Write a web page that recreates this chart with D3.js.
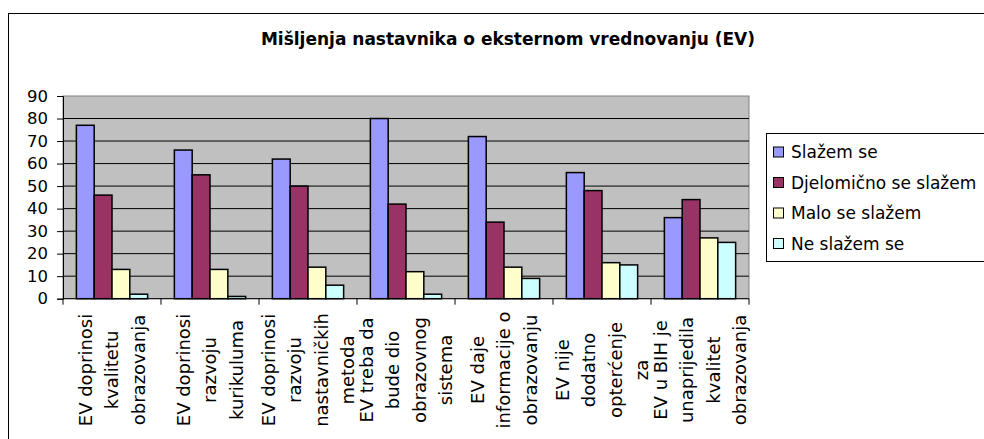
<!DOCTYPE html>
<html>
<head>
<meta charset="utf-8">
<script src="https://cdn.jsdelivr.net/npm/d3@7"></script>
<style>
  html, body { margin: 0; padding: 0; background: #fff; }
  svg { display: block; font-family: "DejaVu Sans", sans-serif; }
</style>
</head>
<body>
<div id="chart"></div>
<script>
// category labels, one array entry per wrapped line
const categories = [
  ['EV doprinosi', 'kvalitetu', 'obrazovanja'],
  ['EV doprinosi', 'razvoju', 'kurikuluma'],
  ['EV doprinosi', 'razvoju', 'nastavničkih', 'metoda'],
  ['EV treba da', 'bude dio', 'obrazovnog', 'sistema'],
  ['EV daje', 'informacije o', 'obrazovanju'],
  ['EV nije', 'dodatno', 'opterćenje', 'za'],
  ['EV u BIH je', 'unaprijedila', 'kvalitet', 'obrazovanja']
];

const seriesNames = ['Slažem se', 'Djelomično se slažem', 'Malo se slažem', 'Ne slažem se'];
const seriesColors = ['#9999FF', '#993366', '#FFFFCC', '#CCFFFF'];

const slazemSe = [77, 66, 62, 80, 72, 56, 36];
const djelomicno = [46, 55, 50, 42, 34, 48, 44];
const maloSe = [13, 13, 14, 12, 14, 16, 27];
const neSlazem = [2, 1, 6, 2, 9, 15, 25];

const yTicks = [0, 10, 20, 30, 40, 50, 60, 70, 80, 90];
const title = 'Mišljenja nastavnika o eksternom vrednovanju (EV)';

const width = 984, height = 439;
const plot = { left: 63, right: 749, top: 96, bottom: 298.7 };
const series = [slazemSe, djelomicno, maloSe, neSlazem];

const svg = d3.select('#chart').append('svg')
  .attr('width', width)
  .attr('height', height);

// outer chart border (runs past the window on the right and bottom)
svg.append('rect')
  .attr('x', 8.5).attr('y', 13.5)
  .attr('width', 1010).attr('height', 440)
  .attr('fill', '#fff')
  .attr('stroke', '#000');

svg.append('text')
  .attr('x', 508).attr('y', 45)
  .attr('text-anchor', 'middle')
  .attr('font-size', '17px')
  .attr('font-weight', 'bold')
  .text(title);

const catIdx = d3.range(categories.length);
const x0 = d3.scaleBand()
  .domain(catIdx)
  .range([plot.left, plot.right])
  .paddingInner(1.5 / 5.5)
  .paddingOuter(0.75 / 5.5);

const x1 = d3.scaleBand()
  .domain(d3.range(series.length))
  .range([0, x0.bandwidth()]);

const y = d3.scaleLinear()
  .domain([0, 90])
  .range([plot.bottom, plot.top]);

// plot background
svg.append('rect')
  .attr('x', plot.left).attr('y', plot.top)
  .attr('width', plot.right - plot.left)
  .attr('height', plot.bottom - plot.top)
  .attr('fill', '#C0C0C0')
  .attr('stroke', '#808080');

// gridlines
svg.selectAll('.grid')
  .data(yTicks.filter(d => d > 0 && d < 90))
  .join('line')
  .attr('x1', plot.left).attr('x2', plot.right)
  .attr('y1', d => y(d)).attr('y2', d => y(d))
  .attr('stroke', '#000')
  .attr('stroke-width', 1);

// bars
const groups = svg.selectAll('.grp')
  .data(catIdx)
  .join('g')
  .attr('transform', i => `translate(${x0(i)},0)`);

groups.selectAll('rect')
  .data(i => series.map((s, k) => ({ k, v: s[i] })))
  .join('rect')
  .attr('x', d => x1(d.k))
  .attr('y', d => y(d.v))
  .attr('width', x1.bandwidth())
  .attr('height', d => y(0) - y(d.v))
  .attr('fill', d => seriesColors[d.k])
  .attr('stroke', '#000')
  .attr('stroke-width', 1.5);

// y axis
const yAxis = svg.append('g')
  .attr('transform', `translate(${plot.left},0)`)
  .call(d3.axisLeft(y).tickValues(yTicks).tickSize(6).tickPadding(9));
yAxis.select('.domain').attr('stroke', '#000');
yAxis.selectAll('text')
  .attr('font-size', '16.5px')
  .attr('font-family', '"DejaVu Sans", sans-serif')
  .attr('fill', '#000');

// x axis: line plus tick marks at category boundaries
const step = x0.step();
const bounds = catIdx.map(i => x0(i) - step * 0.75 / 5.5).concat([plot.right]);
svg.append('line')
  .attr('x1', plot.left).attr('x2', plot.right)
  .attr('y1', plot.bottom).attr('y2', plot.bottom)
  .attr('stroke', '#000');
svg.selectAll('.xtick')
  .data(bounds)
  .join('line')
  .attr('x1', d => d).attr('x2', d => d)
  .attr('y1', plot.bottom).attr('y2', plot.bottom + 6)
  .attr('stroke', '#000');

// category labels, rotated, lines spread across the group
const lineGap = 26.5;
const labelMid = 370;
categories.forEach((lines, i) => {
  const cx = x0(i) + x0.bandwidth() / 2;
  lines.forEach((ln, j) => {
    const lx = cx + (j - (lines.length - 1) / 2) * lineGap;
    svg.append('text')
      .attr('transform', `translate(${lx},${labelMid}) rotate(-90)`)
      .attr('text-anchor', 'middle')
      .attr('dy', '0.36em')
      .attr('font-size', '18px')
      .text(ln);
  });
});

// legend
const legend = svg.append('g').attr('transform', 'translate(766,133)');
legend.append('rect')
  .attr('x', 0.5).attr('y', 0.5)
  .attr('width', 240).attr('height', 128)
  .attr('fill', '#fff')
  .attr('stroke', '#000');

seriesNames.forEach((name, k) => {
  const cy = 19 + k * 30.5;
  legend.append('rect')
    .attr('x', 7.5).attr('y', cy - 5)
    .attr('width', 10).attr('height', 10)
    .attr('fill', seriesColors[k])
    .attr('stroke', '#000');
  legend.append('text')
    .attr('x', 25).attr('y', cy)
    .attr('dy', '0.36em')
    .attr('font-size', '17px')
    .text(name);
});
</script>
</body>
</html>
